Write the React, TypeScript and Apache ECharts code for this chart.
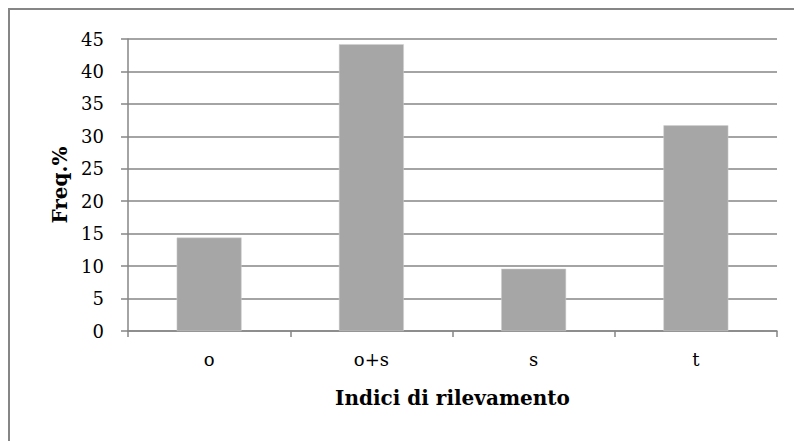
import React, { useEffect, useRef } from "react";
import * as echarts from "echarts";

const categories = ["o", "o+s", "s", "t"];
const values = [14.4, 44.2, 9.6, 31.7];
const yTicks = { min: 0, max: 45, interval: 5 };
const xName = "Indici di rilevamento";
const yName = "Freq.%";

const FONT = "DejaVu Serif";
const GRAY = "#868686";

export default function App() {
  const ref = useRef<HTMLDivElement>(null);
  useEffect(() => {
    document.body.style.margin = "0";
    const chart = echarts.init(ref.current!, null, { renderer: "svg" });
    chart.setOption({
      animation: false,
      backgroundColor: "#ffffff",
      textStyle: { fontFamily: FONT },
      graphic: [
        {
          type: "rect",
          shape: { x: 9, y: 9, width: 820, height: 460 },
          style: { fill: "none", stroke: GRAY, lineWidth: 2 },
          silent: true,
        },
      ],
      grid: { left: 128, right: 17, top: 39, bottom: 110, containLabel: false },
      xAxis: {
        type: "category",
        data: categories,
        name: xName,
        nameLocation: "middle",
        nameGap: 57,
        nameTextStyle: { fontFamily: FONT, fontSize: 20, fontWeight: "bold", color: "#000" },
        axisLine: { show: true, lineStyle: { color: GRAY, width: 1.5 } },
        axisTick: { show: true, length: 6, alignWithLabel: false, lineStyle: { color: GRAY, width: 1.5 } },
        axisLabel: { fontFamily: FONT, fontSize: 18, color: "#000", margin: 19 },
      },
      yAxis: {
        type: "value",
        min: yTicks.min,
        max: yTicks.max,
        interval: yTicks.interval,
        name: yName,
        nameLocation: "middle",
        nameGap: 57,
        nameRotate: 90,
        nameTextStyle: { fontFamily: FONT, fontSize: 20, fontWeight: "bold", color: "#000" },
        axisLine: { show: true, lineStyle: { color: GRAY, width: 1.5 } },
        axisTick: { show: true, length: 7, lineStyle: { color: GRAY, width: 1.5 } },
        axisLabel: { fontFamily: FONT, fontSize: 18, color: "#000", margin: 24 },
        splitLine: { show: true, lineStyle: { color: GRAY, width: 1.5 } },
      },
      series: [
        {
          type: "bar",
          data: values,
          barWidth: "40%",
          itemStyle: { color: "#a6a6a6", borderColor: "#d0d0d0", borderWidth: 0.5 },
        },
      ],
    });
    return () => chart.dispose();
  }, []);
  return <div ref={ref} style={{ width: 794, height: 441 }} />;
}
